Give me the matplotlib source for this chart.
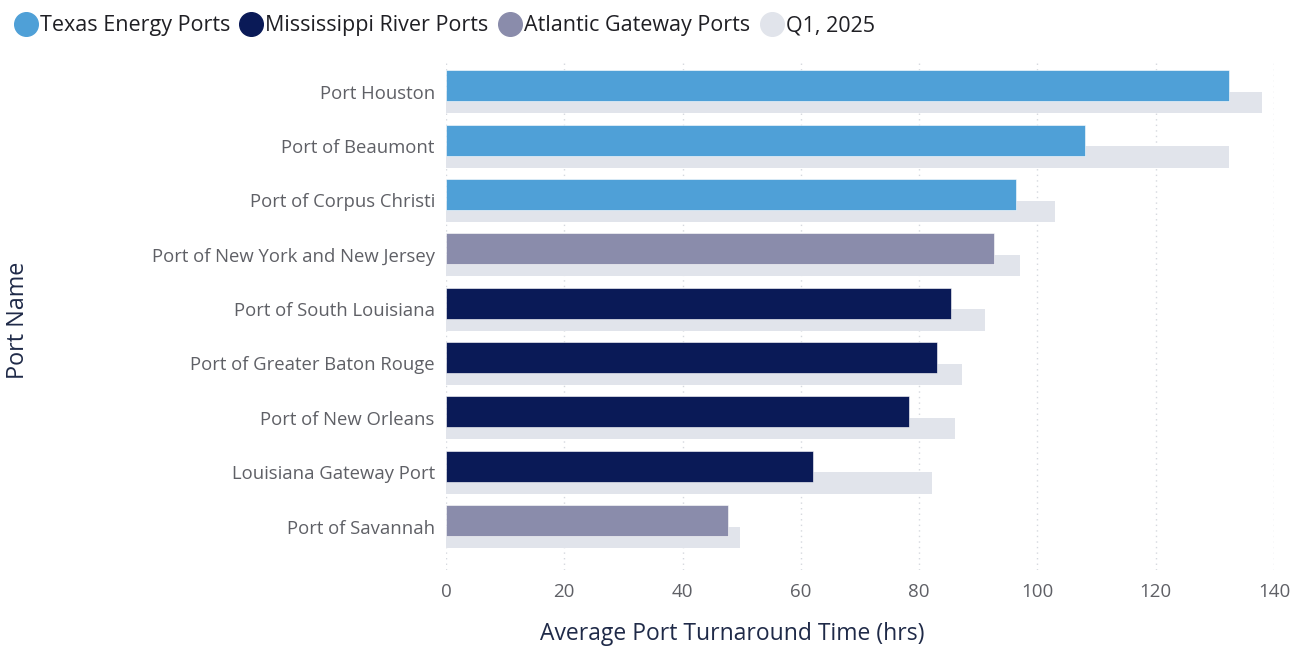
# Port turnaround time chart: current vs Q1, 2025
import matplotlib.pyplot as plt
from matplotlib.lines import Line2D

# Data
ports = ["Port Houston", "Port of Beaumont", "Port of Corpus Christi",
         "Port of New York and New Jersey", "Port of South Louisiana",
         "Port of Greater Baton Rouge", "Port of New Orleans",
         "Louisiana Gateway Port", "Port of Savannah"]
groups = ["Texas Energy Ports", "Texas Energy Ports", "Texas Energy Ports",
          "Atlantic Gateway Ports", "Mississippi River Ports",
          "Mississippi River Ports", "Mississippi River Ports",
          "Mississippi River Ports", "Atlantic Gateway Ports"]
current_hrs = [132.4, 108.1, 96.4, 92.7, 85.4, 83.0, 78.3, 62.0, 47.6]
q1_2025_hrs = [138.0, 132.4, 103.0, 97.1, 91.2, 87.2, 86.1, 82.2, 49.7]

group_colors = {"Texas Energy Ports": "#4FA0D7",
                "Mississippi River Ports": "#0A1A57",
                "Atlantic Gateway Ports": "#8A8CAB"}
q1_color = "#E1E4EB"

plt.rcParams['font.family'] = ['Open Sans', 'DejaVu Sans']

fig = plt.figure(figsize=(13.01, 6.47), dpi=100)
ax = fig.add_axes([0.3428, 0.119, 0.6365, 0.788])

y = list(range(len(ports)))
bar_colors = [group_colors[g] for g in groups]

# Q1 bars behind, shifted down
ax.barh([v + 0.2 for v in y], q1_2025_hrs, height=0.39, color=q1_color, zorder=2)
# current bars on top, shifted up
ax.barh([v - 0.11 for v in y], current_hrs, height=0.57, color=bar_colors,
        edgecolor="#FFFFFF", linewidth=0.4, zorder=3)

ax.set_yticks(y)
ax.set_yticklabels(ports)
ax.set_ylim(8.8, -0.58)
ax.set_xlim(0, 140)
ax.set_xticks(range(0, 141, 20))

ax.grid(axis="x", linestyle=(0, (1, 3)), color="#D5D8DE", linewidth=1, zorder=0)
ax.set_axisbelow(True)
for s in ax.spines.values():
    s.set_visible(False)
ax.tick_params(axis="both", length=0, labelcolor="#5F6066")
ax.tick_params(axis="y", pad=8, labelsize=13.3)
ax.tick_params(axis="x", pad=9, labelsize=13.5)

fig.text(0.5626, 0.02, "Average Port Turnaround Time (hrs)", fontsize=16.5, color="#1F2A48",
         ha="center", va="center")
fig.text(0.014, 0.505, "Port Name", rotation=90, fontsize=16.8, color="#1F2A48",
         ha="center", va="center")

# legend across the top
names = ["Texas Energy Ports", "Mississippi River Ports", "Atlantic Gateway Ports", "Q1, 2025"]
cols = [group_colors[names[0]], group_colors[names[1]], group_colors[names[2]], q1_color]
handles = [Line2D([], [], marker="o", linestyle="", markersize=17, color=c) for c in cols]
fig.legend(handles, names, loc="upper left", bbox_to_anchor=(-0.006, 1.006), ncol=4,
           frameon=False, fontsize=15.5, handletextpad=0.0, columnspacing=0.35,
           handlelength=1.3, labelcolor="#1F1F24")

fig.savefig("out.png", dpi=100)
